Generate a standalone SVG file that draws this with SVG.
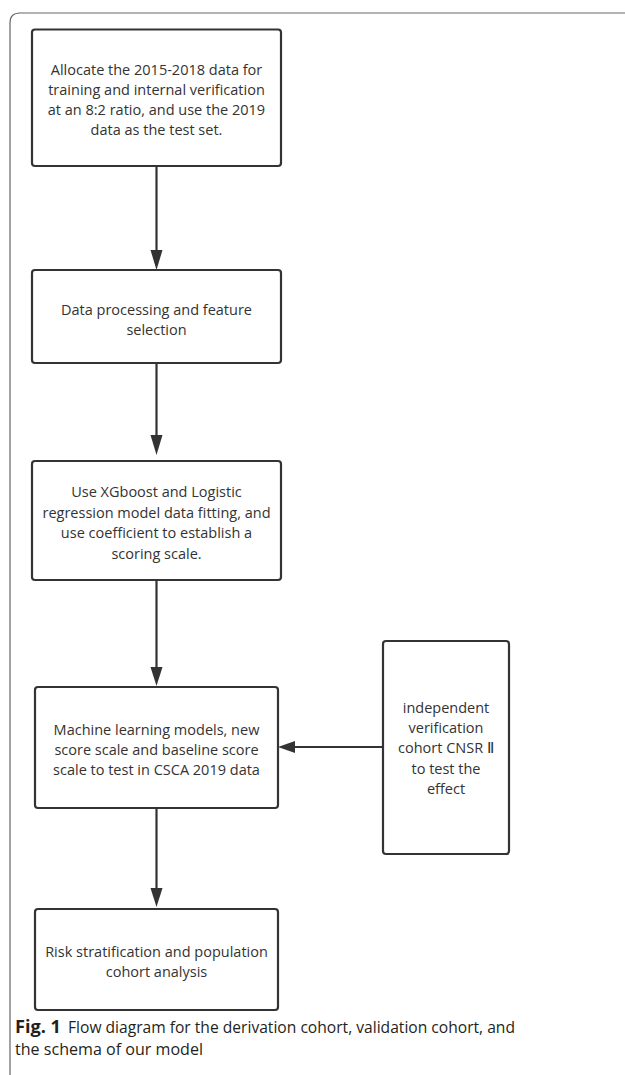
<svg xmlns="http://www.w3.org/2000/svg" width="625" height="1075" viewBox="0 0 625 1075">
<style>
.box{fill:#fff;stroke:#333;stroke-width:2.2}
.t{font-family:"Open Sans","Noto Sans",sans-serif;font-size:14.5px;fill:#333;text-anchor:middle}
.c{stroke:#333;stroke-width:2.2;fill:none}
.cap{font-family:"Open Sans","Noto Sans",sans-serif;font-size:17px;fill:#231f20}
</style>
<rect width="625" height="1075" fill="#fff"/>
<path d="M10,1075 L10,23 Q10,13 20,13 L625,13" fill="none" stroke="#666" stroke-width="1.2"/>

<g id="connectors">
<path class="c" d="M156.5,166 L156.5,252"/>
<path d="M150.5,250 L162.5,250 L156.5,270 Z" fill="#333"/>
<path class="c" d="M156.5,363 L156.5,437"/>
<path d="M150.5,435 L162.5,435 L156.5,455 Z" fill="#333"/>
<path class="c" d="M156.5,580 L156.5,669"/>
<path d="M150.5,667 L162.5,667 L156.5,686 Z" fill="#333"/>
<path class="c" d="M383,747 L293,747"/>
<path d="M295,741 L295,753 L278,747 Z" fill="#333"/>
<path class="c" d="M156.5,808 L156.5,890"/>
<path d="M150.5,888 L162.5,888 L156.5,907 Z" fill="#333"/>
</g>

<g id="node1">
<rect class="box" x="32" y="29.5" width="249" height="136.5" rx="3"/>
<text class="t" x="156.5" y="75">Allocate the 2015-2018 data for</text>
<text class="t" x="156.5" y="95">training and internal verification</text>
<text class="t" x="156.5" y="115">at an 8:2 ratio, and use the 2019</text>
<text class="t" x="156.5" y="135">data as the test set.</text>
</g>

<g id="node2">
<rect class="box" x="32" y="270" width="249" height="93" rx="3"/>
<text class="t" x="156.5" y="315">Data processing and feature</text>
<text class="t" x="156.5" y="335">selection</text>
</g>

<g id="node3">
<rect class="box" x="32" y="461" width="249" height="119" rx="3"/>
<text class="t" x="156.5" y="497">Use XGboost and Logistic</text>
<text class="t" x="156.5" y="517.5">regression model data fitting, and</text>
<text class="t" x="156.5" y="538">use coefficient to establish a</text>
<text class="t" x="156.5" y="558.5">scoring scale.</text>
</g>

<g id="node4">
<rect class="box" x="35" y="687" width="243" height="121" rx="3"/>
<text class="t" x="156.5" y="735">Machine learning models, new</text>
<text class="t" x="156.5" y="755">score scale and baseline score</text>
<text class="t" x="156.5" y="775">scale to test in CSCA 2019 data</text>
</g>

<g id="node5">
<rect class="box" x="383" y="641" width="126" height="213" rx="3"/>
<text class="t" x="446" y="713">independent</text>
<text class="t" x="446" y="733">verification</text>
<text class="t" x="446" y="753">cohort CNSR Ⅱ</text>
<text class="t" x="446" y="774">to test the</text>
<text class="t" x="446" y="794">effect</text>
</g>

<g id="node6">
<rect class="box" x="35" y="909" width="243" height="101" rx="3"/>
<text class="t" x="156.5" y="957">Risk stratification and population</text>
<text class="t" x="156.5" y="977">cohort analysis</text>
</g>

<g id="caption">
<text class="cap" x="15" y="1033" font-weight="bold" textLength="46" lengthAdjust="spacingAndGlyphs">Fig. 1</text>
<text class="cap" x="68" y="1033" textLength="447" lengthAdjust="spacingAndGlyphs">Flow diagram for the derivation cohort, validation cohort, and</text>
<text class="cap" x="15" y="1055" textLength="188" lengthAdjust="spacingAndGlyphs">the schema of our model</text>
</g>
</svg>
